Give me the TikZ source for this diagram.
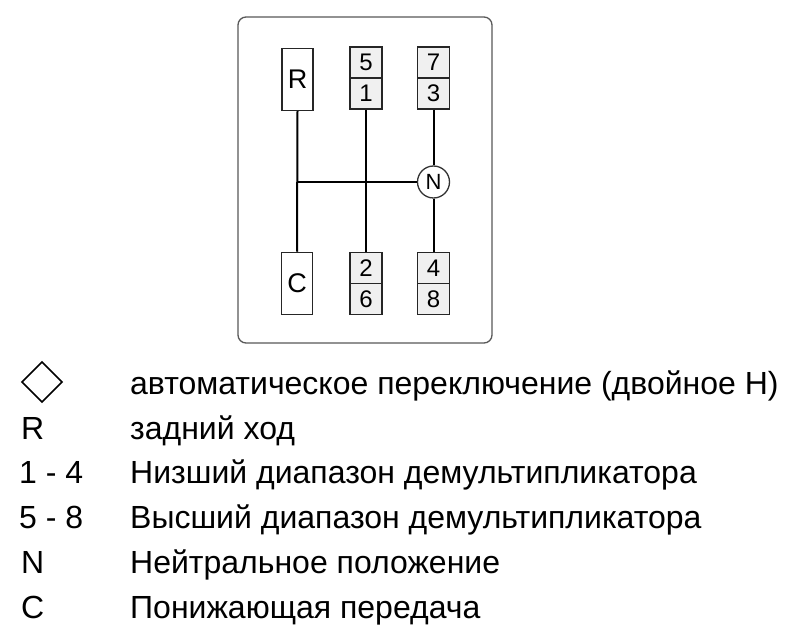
\documentclass[tikz,border=0pt]{standalone}
\usepackage{fontspec}
\setmainfont{Liberation Sans}
\begin{document}
\begin{tikzpicture}[x=1pt,y=-1pt,
  frame/.style={draw=black!65,line width=1.3pt,rounded corners=8pt},
  gbox/.style={draw=black!85,line width=1.5pt,fill=black!6,minimum width=32pt,minimum height=31pt,inner sep=0pt,font=\fontsize{24}{24}\selectfont},
  lbox/.style={draw=black!85,line width=1.5pt,fill=white,minimum width=31pt,minimum height=62pt,inner sep=0pt,font=\fontsize{27}{27}\selectfont},
  shaft/.style={draw=black,line width=2pt},
  ncirc/.style={circle,draw=black!80,line width=1.3pt,fill=white,minimum size=32pt,inner sep=0pt,font=\fontsize{22}{22}\selectfont},
  key/.style={anchor=base west,inner sep=0pt,font=\fontsize{32}{32}\selectfont},
  desc/.style={anchor=base west,inner sep=0pt,font=\fontsize{32}{32}\selectfont}]
\useasboundingbox (0,0) rectangle (796,636);
\fill[white] (0,0) rectangle (796,636);
\node[frame,minimum width=254pt,minimum height=326pt,inner sep=0pt] (frm) at (365,180) {};
% boxes
\node[lbox] (R) at (297.5,79.5) {R};
\node[lbox] (C) at (297,283.5) {C};
\node[gbox] (g5) at (366,62.5) {5};
\node[gbox] (g1) at (366,93.5) {1};
\node[gbox] (g7) at (433.5,62.5) {7};
\node[gbox] (g3) at (433.5,93.5) {3};
\node[gbox] (g2) at (366,268) {2};
\node[gbox] (g6) at (366,299) {6};
\node[gbox] (g4) at (433.5,268) {4};
\node[gbox] (g8) at (433.5,299) {8};
\node[ncirc] (N) at (433.5,182) {N};
\coordinate (hj) at (297.5,182);
% shafts
\draw[shaft] (R.south) -- (C.north);
\draw[shaft] (g1.south) -- (g2.north);
\draw[shaft] (g3.south) -- (N.north);
\draw[shaft] (N.south) -- (g4.north);
\draw[shaft] (hj) -- (N.west);
% legend
\draw[black,line width=1.5pt,line join=miter] (22,382) -- (42,362) -- (62,382) -- (42,402) -- cycle;
\node[key] (kR) at (21,440) {R};
\node[key] (k14) at (19,484) {1 - 4};
\node[key] (k58) at (19,529) {5 - 8};
\node[key] (kN) at (21,573) {N};
\node[key] (kC) at (21,618) {C};
\node[desc] (d1) at (130,395) {автоматическое переключение (двойное Н)};
\node[desc] (d2) at (130,440) {задний ход};
\node[desc] (d3) at (130,484) {Низший диапазон демультипликатора};
\node[desc] (d4) at (130,529) {Высший диапазон демультипликатора};
\node[desc] (d5) at (130,573) {Нейтральное положение};
\node[desc] (d6) at (130,618) {Понижающая передача};
\end{tikzpicture}
\end{document}
